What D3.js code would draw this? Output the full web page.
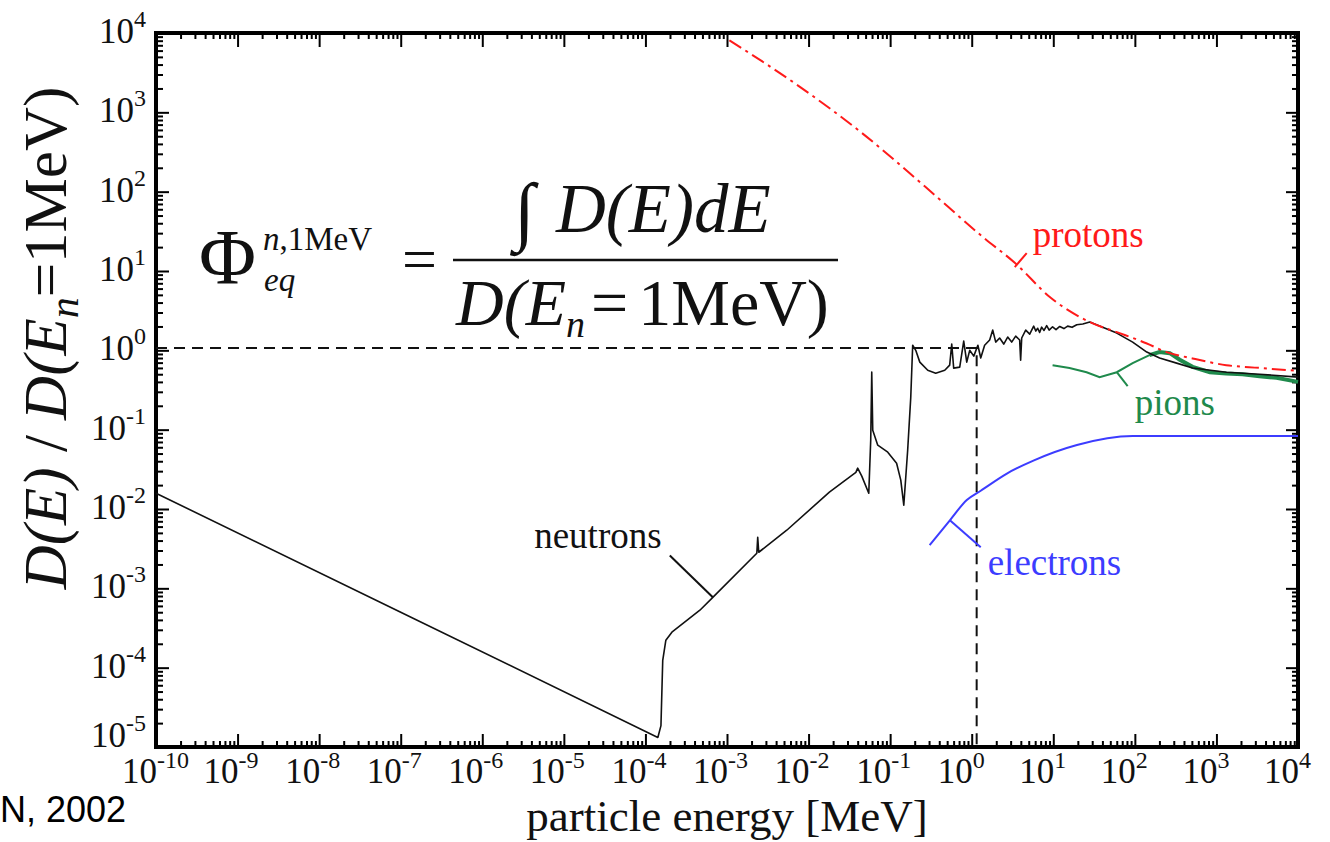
<!DOCTYPE html>
<html>
<head>
<meta charset="utf-8">
<script src="https://cdn.jsdelivr.net/npm/d3@7"></script>
<style>
  body { margin: 0; background: #fff; }
  svg { display: block; }
  text { font-family: "Liberation Serif", "Times New Roman", serif; }
</style>
</head>
<body>
<svg id="chart"></svg>
<script>
// [particle energy in MeV, D(E) / D(En = 1MeV)]
const neutrons = [
  [1e-10, 0.0158], [1e-7, 5.0e-4], [1.42e-4, 1.32e-5], [1.55e-4, 1.86e-5],
  [1.63e-4, 1.24e-4], [1.78e-4, 2.22e-4], [2.11e-4, 2.8e-4], [4.65e-4, 5.3e-4],
  [6.7e-4, 7.7e-4], [2.32e-3, 2.77e-3], [2.38e-3, 4.4e-3], [2.45e-3, 2.85e-3],
  [5.4e-3, 5.4e-3], [0.018, 0.0163], [0.038, 0.029], [0.040, 0.0327],
  [0.0449, 0.026], [0.0547, 0.0158], [0.0578, 0.074], [0.0595, 0.531],
  [0.0612, 0.0986], [0.0705, 0.0638], [0.0935, 0.052], [0.12, 0.0378],
  [0.135, 0.0231], [0.147, 0.0112], [0.164, 0.055], [0.179, 0.257],
  [0.189, 1.16], [0.206, 1.0], [0.231, 0.71], [0.289, 0.56], [0.362, 0.515],
  [0.467, 0.56], [0.537, 0.65], [0.569, 1.2], [0.601, 0.597], [0.713, 0.614],
  [0.798, 1.31], [0.869, 0.71], [0.945, 1.0], [1.06, 0.845], [1.19, 1.16],
  [1.29, 0.80], [1.44, 1.16], [1.66, 1.35], [1.81, 1.8], [1.97, 1.27],
  [2.2, 1.43], [2.47, 1.2], [2.76, 1.47], [3.09, 1.27], [3.46, 1.51],
  [3.87, 1.35], [3.98, 0.75], [4.1, 1.43], [4.59, 1.8], [5.14, 1.6],
  [5.75, 2.02], [6.1, 1.75], [6.44, 1.9], [6.8, 1.68], [7.2, 1.96],
  [7.7, 1.78], [8.3, 2.05], [8.9, 1.8], [9.8, 1.98], [10.8, 1.82], [12, 2.0],
  [13.5, 1.88], [15, 2.02], [17, 1.95], [19.4, 2.1], [23, 2.15], [28, 2.27],
  [37, 2.02], [60, 1.65], [94, 1.27], [140, 0.95], [201, 0.80], [325, 0.69],
  [510, 0.60], [1330, 0.53], [3380, 0.50], [1e4, 0.46]
];
const protons = [
  [1.07e-3, 8100], [7.9e-3, 2080], [0.045, 550], [0.27, 115], [1.36, 27],
  [3.4, 12.6], [9.3, 4.6], [30, 2.2], [65, 1.65], [138, 1.23], [245, 0.95],
  [510, 0.79], [1320, 0.65], [3400, 0.60], [1e4, 0.55]
];
const pions = [
  [9.8, 0.65], [15.8, 0.60], [25.6, 0.53], [37, 0.46], [60, 0.53], [94, 0.69],
  [151, 0.87], [200, 0.95], [268, 0.92], [355, 0.76], [510, 0.62], [830, 0.53],
  [1320, 0.51], [2090, 0.50], [3370, 0.47], [5450, 0.45], [1e4, 0.40]
];
const electrons = [
  [0.305, 3.5e-3], [0.54, 7.2e-3], [0.87, 0.013], [1.29, 0.017], [2.7, 0.028],
  [5.8, 0.041], [19.5, 0.064], [94, 0.083], [1e4, 0.083]
];
const xExponents = d3.range(-10, 5);
const yExponents = d3.range(-5, 5);
const refPoint = [1.15, 1.07];

// curve labels: text anchor point and pointer line, in data units
const labels = [
  { name: "neutrons", color: "#111", at: [1.58e-4, 3.2e-3], anchor: "end",
    from: [1.99e-4, 2.6e-3], to: [6.7e-4, 7.7e-4] },
  { name: "protons", color: "#ff1a1a", at: [5.6, 20], anchor: "start",
    from: [3.37, 11.2], to: [4.72, 16.8] },
  { name: "pions", color: "#1f8a4c", at: [99.6, 0.152], anchor: "start",
    from: [60, 0.53], to: [81.6, 0.354] },
  { name: "electrons", color: "#3c3cff", at: [1.57, 1.46e-3], anchor: "start",
    from: [0.54, 7.2e-3], to: [1.29, 3.3e-3] }
];

const width = 1330, height = 842;
const margin = { top: 33, right: 32, bottom: 95, left: 156 };

const svg = d3.select("#chart").attr("width", width).attr("height", height);

const x = d3.scaleLog().domain([1e-10, 1e4]).range([margin.left, width - margin.right]);
const y = d3.scaleLog().domain([1e-5, 1e4]).range([height - margin.bottom, margin.top]);

const xMajor = xExponents.map(e => Math.pow(10, e));
const yMajor = yExponents.map(e => Math.pow(10, e));
const minorsOf = majors => {
  const out = [];
  majors.slice(0, -1).forEach(m => { for (let k = 2; k < 10; k++) out.push(m * k); });
  return out;
};
const xMinor = minorsOf(xMajor), yMinor = minorsOf(yMajor);

// ticks on all four sides, pointing inward
const bottom = height - margin.bottom, right = width - margin.right;
function ticks(axis, tr) {
  svg.append("g")
    .attr("transform", tr)
    .call(axis.tickFormat(""))
    .call(g => g.select(".domain").remove())
    .call(g => g.selectAll("line").attr("stroke", "#000").attr("stroke-width", 2));
}
ticks(d3.axisBottom(x).tickValues(xMajor).tickSize(-13), `translate(0,${bottom})`);
ticks(d3.axisBottom(x).tickValues(xMinor).tickSize(-6), `translate(0,${bottom})`);
ticks(d3.axisTop(x).tickValues(xMajor).tickSize(-14), `translate(0,${margin.top})`);
ticks(d3.axisTop(x).tickValues(xMinor).tickSize(-6), `translate(0,${margin.top})`);
ticks(d3.axisLeft(y).tickValues(yMajor).tickSize(-13), `translate(${margin.left},0)`);
ticks(d3.axisLeft(y).tickValues(yMinor).tickSize(-7), `translate(${margin.left},0)`);
ticks(d3.axisRight(y).tickValues(yMajor).tickSize(-12), `translate(${right},0)`);
ticks(d3.axisRight(y).tickValues(yMinor).tickSize(-6), `translate(${right},0)`);

svg.append("rect")
  .attr("x", margin.left).attr("y", margin.top)
  .attr("width", right - margin.left).attr("height", bottom - margin.top)
  .attr("fill", "none").attr("stroke", "#000").attr("stroke-width", 4);

// tick labels 10^n
svg.append("g").selectAll("text")
  .data(xExponents).join("text")
  .attr("x", d => x(Math.pow(10, d)) - 34)
  .attr("y", 783)
  .attr("font-size", 35).attr("fill", "#111")
  .each(function(d) {
    const t = d3.select(this);
    t.append("tspan").text("10");
    t.append("tspan").attr("dy", -15).attr("font-size", 24).text(d);
  });

svg.append("g").selectAll("text")
  .data(yExponents).join("text")
  .attr("x", margin.left - 10)
  .attr("y", d => Math.min(y(Math.pow(10, d)) + 10, bottom))
  .attr("text-anchor", "end")
  .attr("font-size", 35).attr("fill", "#111")
  .each(function(d) {
    const t = d3.select(this);
    t.append("tspan").text("10");
    t.append("tspan").attr("dy", -16).attr("font-size", 24).text(d);
  });

// reference dashed lines at 1 MeV
svg.append("path")
  .attr("d", `M${x(1e-10)},${y(refPoint[1])}H${x(refPoint[0])}V${y(1e-5)}`)
  .attr("fill", "none").attr("stroke", "#111")
  .attr("stroke-width", 2).attr("stroke-dasharray", "11,7");

const line = d3.line().x(d => x(d[0])).y(d => y(d[1]));
const smooth = d3.line().x(d => x(d[0])).y(d => y(d[1])).curve(d3.curveMonotoneX);

svg.append("path").datum(electrons)
  .attr("fill", "none").attr("stroke", "#3c3cff").attr("stroke-width", 2)
  .attr("d", smooth);

svg.append("path").datum(pions)
  .attr("fill", "none").attr("stroke", "#1f8a4c").attr("stroke-width", 2)
  .attr("d", line);
svg.append("path").datum(pions.filter(d => d[0] >= 150))
  .attr("fill", "none").attr("stroke", "#1f8a4c").attr("stroke-width", 4)
  .attr("d", line);

svg.append("path").datum(neutrons)
  .attr("fill", "none").attr("stroke", "#111").attr("stroke-width", 1.6)
  .attr("stroke-linejoin", "round")
  .attr("d", line);

svg.append("path").datum(protons)
  .attr("fill", "none").attr("stroke", "#ff1a1a").attr("stroke-width", 2)
  .attr("stroke-dasharray", "14,5,3,5")
  .attr("d", smooth);

// curve labels with pointers
labels.forEach(l => {
  svg.append("line")
    .attr("x1", x(l.from[0])).attr("y1", y(l.from[1]))
    .attr("x2", x(l.to[0])).attr("y2", y(l.to[1]))
    .attr("stroke", l.color).attr("stroke-width", 2);
  svg.append("text")
    .attr("x", x(l.at[0])).attr("y", y(l.at[1]))
    .attr("text-anchor", l.anchor)
    .attr("font-size", 37).attr("fill", l.color)
    .text(l.name);
});

// formula
const f = svg.append("g").attr("fill", "#111");
f.append("text").attr("x", 199).attr("y", 283).attr("font-size", 78).text("Φ");
const sup = f.append("text").attr("x", 263).attr("y", 250).attr("font-size", 33);
sup.append("tspan").attr("font-style", "italic").text("n");
sup.append("tspan").text(",1MeV");
f.append("text").attr("x", 264).attr("y", 291).attr("font-size", 33)
  .attr("font-style", "italic").text("eq");
f.append("text").attr("x", 402).attr("y", 280).attr("font-size", 62).text("=");
f.append("line").attr("x1", 453).attr("x2", 838).attr("y1", 260).attr("y2", 260)
  .attr("stroke", "#111").attr("stroke-width", 2.5);
f.append("text").attr("x", 514).attr("y", 236).attr("font-size", 76).text("∫");
f.append("text").attr("x", 556).attr("y", 232).attr("font-size", 69)
  .attr("font-style", "italic").text("D(E)dE");
const den = f.append("text").attr("x", 456).attr("y", 325).attr("font-size", 66);
den.append("tspan").attr("font-style", "italic").text("D(E");
den.append("tspan").attr("font-style", "italic").attr("font-size", 38).attr("dy", 12).text("n");
den.append("tspan").attr("dy", -12).attr("dx", 6).text("=");
den.append("tspan").attr("dx", 10).text("1MeV)");

// axis titles
const yt = svg.append("text")
  .attr("transform", "translate(66,338) rotate(-90)")
  .attr("text-anchor", "middle").attr("font-size", 61).attr("fill", "#111");
yt.append("tspan").attr("font-style", "italic").text("D(E)");
yt.append("tspan").text(" / ");
yt.append("tspan").attr("font-style", "italic").text("D(E");
yt.append("tspan").attr("font-style", "italic").attr("font-size", 42).attr("dy", 12).text("n");
yt.append("tspan").attr("dy", -12).text("=1MeV)");

svg.append("text")
  .attr("x", 727).attr("y", 831)
  .attr("text-anchor", "middle").attr("font-size", 45).attr("fill", "#111")
  .text("particle energy [MeV]");

svg.append("text")
  .attr("x", 0).attr("y", 822)
  .attr("font-size", 36).attr("fill", "#000")
  .style("font-family", "'Liberation Sans', Arial, sans-serif")
  .text("N, 2002");
</script>
</body>
</html>
